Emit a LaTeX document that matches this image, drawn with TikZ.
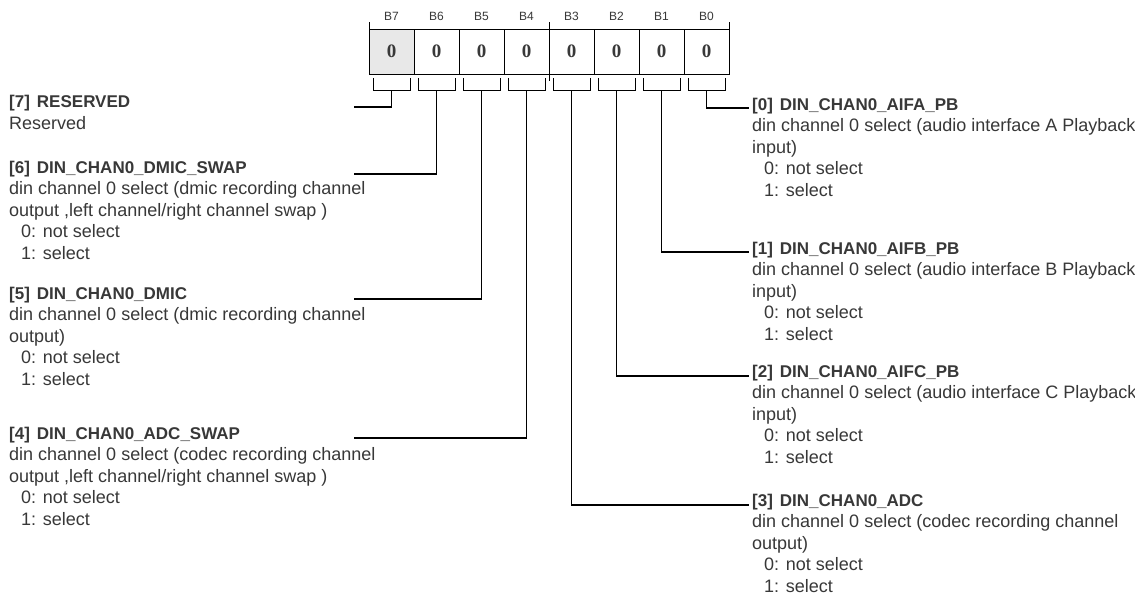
\documentclass[tikz,border=0pt]{standalone}
\usepackage{fontspec}
\setmainfont{Liberation Sans}
\newfontfamily\cellfont{Liberation Serif}
\definecolor{txt}{HTML}{383838}
\definecolor{cellgray}{HTML}{E8E8E8}
\begin{document}
\begin{tikzpicture}[x=1pt,y=-1pt,
  hdr/.style={anchor=base west, inner sep=0pt, text=txt, font=\fontsize{17}{20}\selectfont\bfseries},
  dsc/.style={anchor=base west, inner sep=0pt, text=txt, font=\fontsize{18}{21}\selectfont},
  cell/.style={draw, line width=0.9pt, minimum width=45pt, minimum height=45pt, inner sep=0pt, text=txt, font=\cellfont\bfseries\fontsize{19}{22}\selectfont},
  blab/.style={inner sep=0pt, text=txt, font=\fontsize{12}{14}\selectfont},
  brk/.style={line width=0.9pt, black},
  wire/.style={line width=1.1pt, black}]
\path[use as bounding box, fill=white] (0,0) rectangle (1135,597);
% register cells
\node[cell, fill=cellgray] (c7) at (391.5,51.5) {0};
\node[blab] (t7) at (391.5,16) {B7};
\foreach \k in {1,...,7}{
  \pgfmathtruncatemacro\b{7-\k}
  \node[cell] (c\b) at (391.5+45*\k,51.5) {0};
  \node[blab] (t\b) at (391.5+45*\k,16) {B\b};
}
% ticks
\draw[brk] (369,22) -- (369,29);
\draw[brk] (549,22) -- (549,29);
\draw[brk] (729,22) -- (729,29);
\draw[brk] (549,74) -- (549,81);
% brackets and stems
\foreach \k in {0,...,7}{
  \pgfmathtruncatemacro\b{7-\k}
  \draw[brk] (373+45*\k,78) -- (373+45*\k,90) -- (410+45*\k,90) -- (410+45*\k,78);
  \coordinate (s\b) at (391.5+45*\k,90);
}
% connector ends
\coordinate (e7) at (354,107);
\coordinate (e6) at (354,174);
\coordinate (e5) at (354,299);
\coordinate (e4) at (354,438);
\coordinate (e0) at (749,108);
\coordinate (e1) at (749,252);
\coordinate (e2) at (749,376);
\coordinate (e3) at (749,505);
\foreach \b in {0,...,7}{\draw[wire] (s\b) |- (e\b);}
% left texts
\node[hdr] (h7) at (9,107) {[7]\hspace{7pt}RESERVED};
\node[dsc] (d7a) at (9,129) {Reserved};
\node[hdr] (h6) at (9,173) {[6]\hspace{7pt}DIN\_CHAN0\_DMIC\_SWAP};
\node[dsc] (d6a) at (9,194.5) {din channel 0 select (dmic recording channel};
\node[dsc] (d6b) at (9,216) {output ,left channel/right channel swap )};
\node[dsc] (d6c) at (21,237.5) {0: not select};
\node[dsc] (d6d) at (21,259) {1: select};
\node[hdr] (h5) at (9,299) {[5]\hspace{7pt}DIN\_CHAN0\_DMIC};
\node[dsc] (d5a) at (9,320.5) {din channel 0 select (dmic recording channel};
\node[dsc] (d5b) at (9,342) {output)};
\node[dsc] (d5c) at (21,363.5) {0: not select};
\node[dsc] (d5d) at (21,385) {1: select};
\node[hdr] (h4) at (9,439) {[4]\hspace{7pt}DIN\_CHAN0\_ADC\_SWAP};
\node[dsc] (d4a) at (9,460.5) {din channel 0 select (codec recording channel};
\node[dsc] (d4b) at (9,482) {output ,left channel/right channel swap )};
\node[dsc] (d4c) at (21,503.5) {0: not select};
\node[dsc] (d4d) at (21,525) {1: select};
% right texts
\node[hdr] (h0) at (752,110) {[0]\hspace{7pt}DIN\_CHAN0\_AIFA\_PB};
\node[dsc] (d0a) at (752,131.5) {din channel 0 select (audio interface A Playback};
\node[dsc] (d0b) at (752,153) {input)};
\node[dsc] (d0c) at (764,174.5) {0: not select};
\node[dsc] (d0d) at (764,196) {1: select};
\node[hdr] (h1) at (752,254) {[1]\hspace{7pt}DIN\_CHAN0\_AIFB\_PB};
\node[dsc] (d1a) at (752,275.5) {din channel 0 select (audio interface B Playback};
\node[dsc] (d1b) at (752,297) {input)};
\node[dsc] (d1c) at (764,318.5) {0: not select};
\node[dsc] (d1d) at (764,340) {1: select};
\node[hdr] (h2) at (752,377) {[2]\hspace{7pt}DIN\_CHAN0\_AIFC\_PB};
\node[dsc] (d2a) at (752,398.5) {din channel 0 select (audio interface C Playback};
\node[dsc] (d2b) at (752,420) {input)};
\node[dsc] (d2c) at (764,441.5) {0: not select};
\node[dsc] (d2d) at (764,463) {1: select};
\node[hdr] (h3) at (752,506) {[3]\hspace{7pt}DIN\_CHAN0\_ADC};
\node[dsc] (d3a) at (752,527.5) {din channel 0 select (codec recording channel};
\node[dsc] (d3b) at (752,549) {output)};
\node[dsc] (d3c) at (764,570.5) {0: not select};
\node[dsc] (d3d) at (764,592) {1: select};
\end{tikzpicture}
\end{document}
